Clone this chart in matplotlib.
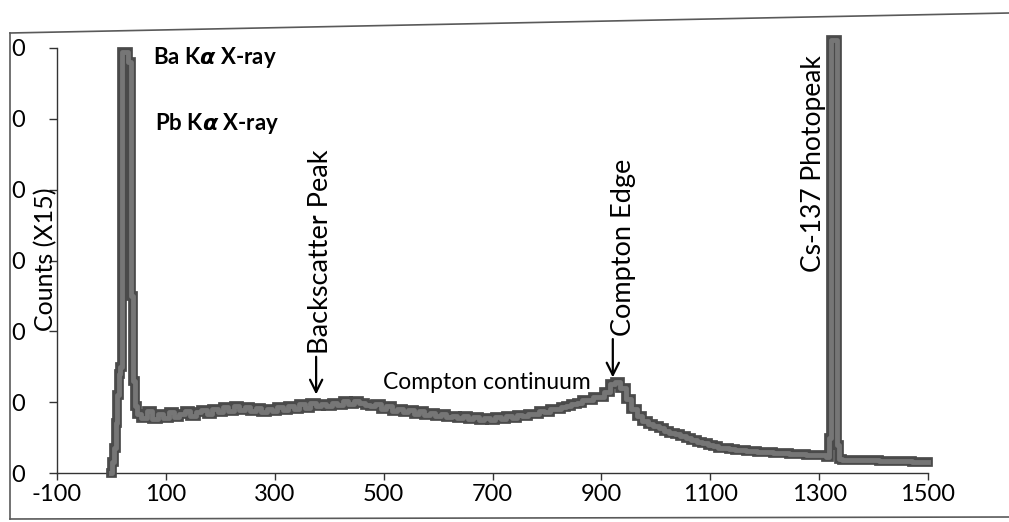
import numpy as np
import matplotlib
matplotlib.use("Agg")
import matplotlib.pyplot as plt
from matplotlib.lines import Line2D

plt.rcParams['font.family'] = ['Lato', 'DejaVu Sans']
plt.rcParams['mathtext.fontset'] = 'custom'
plt.rcParams['mathtext.it'] = 'DejaVu Sans:italic:bold'

# channel / counts (x15)
channel = [0, 3, 6, 9, 12, 15, 18, 21, 30, 31, 35, 37, 41, 44,
           50, 60, 70, 80, 90, 100, 110, 120, 130, 140, 150, 160, 170, 180, 190,
           200, 210, 220, 230, 240, 250, 260, 270, 280, 290, 300, 310, 320, 330,
           340, 350, 360, 370, 380, 390, 400, 410, 420, 430, 440, 450, 460, 470,
           480, 490, 500, 510, 520, 530, 540, 550, 560, 570, 580, 590, 600, 610,
           620, 630, 640, 650, 660, 670, 680, 690, 700, 710, 720, 730, 740, 750,
           760, 770, 780, 790, 800, 810, 820, 830, 840, 850, 860, 870, 880, 890,
           900, 910, 920, 930, 940, 950, 960, 970, 980, 990, 1000, 1010, 1020,
           1030, 1040, 1050, 1060, 1070, 1080, 1090, 1100, 1110, 1120, 1130, 1140,
           1150, 1160, 1170, 1180, 1190, 1200, 1210, 1220, 1230, 1240, 1250, 1260,
           1270, 1280, 1290, 1300, 1310, 1316, 1320, 1322, 1331, 1335, 1338, 1345,
           1360, 1380, 1400, 1420, 1440, 1460, 1480, 1500]
counts = [0.0, 0.15, 0.35, 0.7, 1.1, 1.4, 1.5, 5.94, 5.94, 5.80, 5.80, 2.5, 1.3, 0.95,
          0.84, 0.78, 0.88, 0.76, 0.83, 0.78, 0.86, 0.79, 0.84, 0.87, 0.81, 0.86, 0.89, 0.83, 0.91,
          0.86, 0.93, 0.88, 0.95, 0.89, 0.93, 0.87, 0.92, 0.86, 0.91, 0.88, 0.93, 0.89, 0.95,
          0.90, 0.98, 0.92, 0.99, 0.94, 0.98, 0.94, 0.99, 0.96, 1.01, 0.97, 1.02, 0.99, 0.96,
          0.95, 0.97, 0.91, 0.94, 0.88, 0.91, 0.86, 0.89, 0.84, 0.87, 0.82, 0.85, 0.80, 0.83,
          0.79, 0.81, 0.77, 0.80, 0.76, 0.79, 0.75, 0.78, 0.75, 0.79, 0.76, 0.80, 0.78, 0.82,
          0.80, 0.84, 0.83, 0.87, 0.86, 0.90, 0.90, 0.93, 0.94, 0.98, 0.99, 1.03, 1.03, 1.08,
          1.08, 1.15, 1.25, 1.28, 1.20, 1.05, 0.90, 0.80, 0.74, 0.69, 0.66, 0.63, 0.60,
          0.57, 0.55, 0.52, 0.49, 0.46, 0.44, 0.42, 0.40, 0.38, 0.36, 0.35, 0.34,
          0.33, 0.32, 0.31, 0.31, 0.30, 0.29, 0.29, 0.28, 0.28, 0.28, 0.27, 0.27,
          0.27, 0.26, 0.26, 0.26, 0.26, 0.22, 0.5, 6.12, 6.12, 0.4, 0.2, 0.19,
          0.19, 0.18, 0.18, 0.17, 0.17, 0.17, 0.16, 0.16]

xticks = [-100, 100, 300, 500, 700, 900, 1100, 1300, 1500]
yticks = [0, 1, 2, 3, 4, 5, 6]
ytick_labels = ['0', '0', '0', '0', '0', '0', '0']  # left digits cut off in the scan

fig = plt.figure(figsize=(10.09, 5.22), dpi=100)
ax = fig.add_axes([57 / 1009, 1 - 473 / 522, (928 - 57) / 1009, (473 - 48) / 522])

ax.plot(channel, counts, color='#4a4a4a', lw=7.0, drawstyle='steps-mid',
        solid_joinstyle='miter', clip_on=False, zorder=3)
ax.plot(channel, counts, color='#767676', lw=3.5, drawstyle='steps-mid',
        clip_on=False, zorder=4)

ax.set_xlim(-100, 1500)
ax.set_ylim(0, 6)
ax.set_xticks(xticks)
ax.set_xticklabels([str(t) for t in xticks])
ax.set_yticks(yticks)
ax.set_yticklabels(ytick_labels)
for s in ['top', 'right']:
    ax.spines[s].set_visible(False)
for s in ['left', 'bottom']:
    ax.spines[s].set_color('#333333')
    ax.spines[s].set_linewidth(1.0)
ax.tick_params(axis='x', direction='out', length=5, width=1, colors='#333333',
               labelcolor='black', labelsize=17, pad=3)
ax.tick_params(axis='y', direction='out', length=6, width=1, colors='#333333',
               labelcolor='black', labelsize=17, pad=17)

# annotations
ax.text(76, 5.87, 'Ba K$\\alpha$ X-ray', fontsize=16, fontweight='bold', va='center', ha='left')
ax.text(80, 4.93, 'Pb K$\\alpha$ X-ray', fontsize=16, fontweight='bold', va='center', ha='left')
ax.text(498, 1.28, 'Compton continuum', fontsize=16.5, va='center', ha='left')
ax.text(384, 1.68, 'Backscatter Peak', fontsize=19.5, rotation=90, ha='center', va='bottom')
ax.text(941, 1.93, 'Compton Edge', fontsize=19.5, rotation=90, ha='center', va='bottom')
ax.text(1290, 2.84, 'Cs-137 Photopeak', fontsize=19, rotation=90, ha='center', va='bottom')
ax.text(-120, 3.02, 'Counts (X15)', fontsize=18, rotation=90, ha='center', va='center',
        clip_on=False)

arrow = dict(arrowstyle='->', lw=1.6, color='black', mutation_scale=22)
ax.annotate('', xy=(376, 1.07), xytext=(376, 1.68), arrowprops=arrow)
ax.annotate('', xy=(921, 1.31), xytext=(921, 1.93), arrowprops=arrow)

# frame of the scanned chart area
fc = '#5a5a5a'
fig.add_artist(Line2D([10 / 1009, 1], [1 - 33 / 522, 1 - 13 / 522], color=fc, lw=1.2))
fig.add_artist(Line2D([10 / 1009, 10 / 1009], [1 - 33 / 522, 1 - 519 / 522], color=fc, lw=1.2))
fig.add_artist(Line2D([10 / 1009, 1], [1 - 519 / 522, 1 - 517 / 522], color=fc, lw=1.2))

fig.savefig('out.png', dpi=100)
